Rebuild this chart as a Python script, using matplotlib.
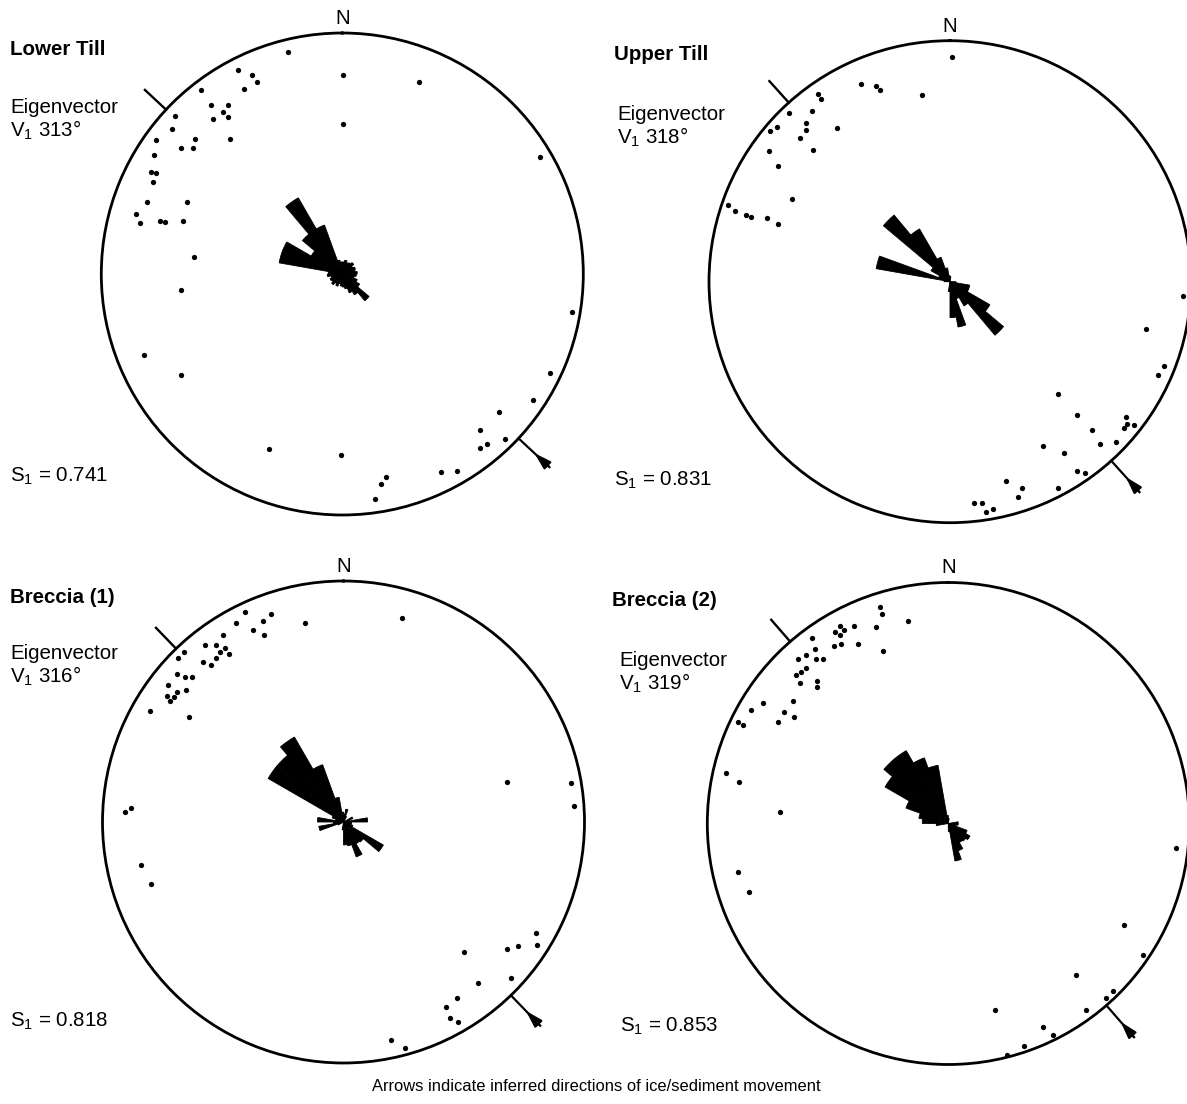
import numpy as np
import matplotlib
matplotlib.use('Agg')
import matplotlib.pyplot as plt

plt.rcParams['font.family'] = ['Liberation Sans', 'DejaVu Sans']
plt.rcParams['mathtext.fontset'] = 'custom'
plt.rcParams['mathtext.rm'] = 'Liberation Sans'
plt.rcParams['mathtext.it'] = 'Liberation Sans:italic'

W, H, DPI = 1187, 1104, 100

# ---- data -----------------------------------------------------------------
panel_names = ['Lower Till', 'Upper Till', 'Breccia (1)', 'Breccia (2)']
eigen_v1 = [313, 318, 316, 319]          # trend of principal eigenvector (deg)
s1_values = [0.741, 0.831, 0.818, 0.853]  # S1 eigenvalue

# clast axes, projected (east, north), net radius = 1
lower_till_x = [-0.227, -0.434, -0.373, -0.355, -0.408, 0.002, 0.320, -0.586, -0.544, -0.474,
                -0.494, -0.474, -0.538, -0.693, -0.708, 0.002, -0.773, -0.611, -0.466, -0.671,
                -0.620, -0.783, 0.820, -0.794, -0.772, -0.784, -0.812, -0.643, -0.857, -0.838,
                -0.755, -0.734, -0.660, -0.615, -0.668, 0.953, -0.823, -0.671, 0.863, 0.793,
                0.649, 0.573, 0.600, 0.573, 0.674, -0.304, -0.005, 0.408, 0.476, 0.183,
                0.159, 0.136]
lower_till_y = [0.920, 0.846, 0.827, 0.797, 0.766, 0.827, 0.797, 0.763, 0.702, 0.701,
                0.671, 0.651, 0.644, 0.654, 0.603, 0.622, 0.556, 0.559, 0.559, 0.522,
                0.522, 0.495, 0.484, 0.423, 0.418, 0.382, 0.298, 0.298, 0.249, 0.213,
                0.220, 0.215, 0.219, 0.072, -0.066, -0.158, -0.335, -0.419, -0.411, -0.524,
                -0.573, -0.647, -0.705, -0.723, -0.686, -0.726, -0.751, -0.823, -0.817, -0.842,
                -0.870, -0.934]

upper_till_x = [0.010, -0.370, -0.306, -0.290, -0.116, -0.547, -0.534, -0.668, -0.573, -0.598,
                -0.719, -0.748, -0.599, -0.467, -0.622, -0.749, -0.569, -0.715, -0.655, -0.923,
                -0.893, -0.848, -0.825, -0.761, -0.715, 0.965, 0.812, 0.887, 0.865, 0.448,
                0.529, 0.729, 0.733, 0.763, 0.723, 0.591, 0.689, 0.621, 0.386, 0.475,
                0.526, 0.559, 0.231, 0.298, 0.447, 0.284, 0.101, 0.134, 0.149, 0.178]
upper_till_y = [0.933, 0.822, 0.810, 0.795, 0.773, 0.777, 0.757, 0.701, 0.707, 0.660,
                0.643, 0.625, 0.629, 0.636, 0.595, 0.541, 0.545, 0.479, 0.344, 0.318,
                0.292, 0.276, 0.268, 0.263, 0.238, -0.059, -0.197, -0.349, -0.389, -0.465,
                -0.552, -0.563, -0.589, -0.595, -0.609, -0.614, -0.664, -0.673, -0.683, -0.711,
                -0.784, -0.795, -0.827, -0.858, -0.855, -0.892, -0.919, -0.919, -0.954, -0.945]

breccia1_x = [-0.409, -0.302, 0.241, -0.446, -0.334, -0.160, -0.376, -0.331, -0.501, -0.576,
              -0.529, -0.492, -0.661, -0.511, -0.474, -0.685, -0.529, -0.584, -0.551, -0.691,
              -0.656, -0.627, -0.728, -0.654, -0.691, -0.734, -0.705, -0.719, -0.802, -0.640,
              0.677, 0.945, 0.958, -0.882, -0.908, -0.839, -0.799, 0.799, 0.802, 0.677,
              0.723, 0.499, 0.696, 0.557, 0.471, 0.424, 0.443, 0.476, 0.198, 0.255]
breccia1_y = [0.870, 0.863, 0.848, 0.827, 0.834, 0.824, 0.795, 0.776, 0.776, 0.736,
              0.733, 0.723, 0.705, 0.705, 0.696, 0.679, 0.682, 0.665, 0.650, 0.613,
              0.603, 0.600, 0.568, 0.548, 0.539, 0.522, 0.517, 0.502, 0.459, 0.436,
              0.166, 0.163, 0.066, 0.058, 0.043, -0.178, -0.256, -0.461, -0.512, -0.526,
              -0.516, -0.541, -0.646, -0.668, -0.730, -0.768, -0.813, -0.830, -0.906, -0.937]

breccia2_x = [-0.282, -0.275, -0.168, -0.391, -0.301, -0.449, -0.434, -0.470, -0.448, -0.567,
              -0.444, -0.473, -0.373, -0.553, -0.270, -0.589, -0.625, -0.548, -0.521, -0.592,
              -0.610, -0.632, -0.546, -0.614, -0.545, -0.770, -0.646, -0.817, -0.683, -0.641,
              -0.705, -0.874, -0.852, -0.921, -0.870, -0.697, 0.944, -0.874, -0.828, 0.728,
              0.807, 0.531, 0.683, 0.654, 0.573, 0.193, 0.394, 0.436, 0.314, 0.242]
breccia2_y = [0.897, 0.868, 0.841, 0.821, 0.817, 0.821, 0.803, 0.793, 0.782, 0.768,
              0.745, 0.737, 0.745, 0.724, 0.715, 0.699, 0.684, 0.684, 0.684, 0.646,
              0.629, 0.615, 0.590, 0.582, 0.566, 0.500, 0.508, 0.472, 0.464, 0.443,
              0.422, 0.421, 0.409, 0.208, 0.172, 0.048, -0.103, -0.200, -0.285, -0.422,
              -0.544, -0.629, -0.695, -0.724, -0.773, -0.775, -0.846, -0.876, -0.922, -0.961]

# rose diagrams: 10 degree bins starting at 0, petal length in % of net radius
rose_bin_start = np.arange(0, 360, 10)
lower_till_rose = [5.0, 5.8, 5.0, 5.4, 6.2, 5.0, 5.8, 5.4, 6.2, 5.8,
                   5.0, 6.6, 8.3, 14.5, 10.0, 8.3, 6.2, 5.4, 5.0, 4.1,
                   5.4, 4.6, 5.8, 5.0, 5.4, 4.6, 6.2, 5.8, 26.6, 26.6,
                   14.9, 21.6, 36.5, 21.6, 5.8, 5.0]
upper_till_rose = [2.1, 0, 0, 0, 0, 0, 0, 0, 0, 2.5,
                   8.3, 8.3, 19.1, 29.0, 11.6, 7.5, 19.1, 14.9, 4.1, 0,
                   0, 0, 0, 0, 0, 0, 0, 2.5, 31.1, 5.0,
                   9.1, 36.1, 25.3, 10.8, 5.8, 2.5]
breccia1_rose = [3.3, 5.4, 2.5, 0, 0, 0, 4.1, 2.5, 10.0, 3.3,
                 3.3, 4.1, 19.1, 10.8, 10.4, 15.4, 10.0, 9.5, 3.3, 0,
                 0, 0, 0, 0, 2.5, 10.4, 4.1, 10.8, 3.3, 5.0,
                 36.1, 36.1, 40.7, 25.3, 10.4, 4.1]
breccia2_rose = [2.1, 0, 0, 0, 0, 0, 0, 0, 4.1, 4.1,
                 3.3, 8.3, 10.4, 9.5, 9.1, 12.0, 15.8, 3.3, 0, 0,
                 0, 0, 0, 0, 0, 0, 5.0, 10.8, 12.4, 18.7,
                 30.3, 34.9, 34.9, 29.0, 24.5, 3.3]

points_x = [lower_till_x, upper_till_x, breccia1_x, breccia2_x]
points_y = [lower_till_y, upper_till_y, breccia1_y, breccia2_y]
roses = [lower_till_rose, upper_till_rose, breccia1_rose, breccia2_rose]

# ---- layout (pixels) --------------------------------------------------------
net_centres = [(342.3, 274.0), (950.0, 281.7), (343.5, 822.0), (948.3, 823.5)]
net_radius = 241.0
# x of title / eigenvector block / S1 line
label_x = [(10.5, 10.5, 10.5), (614, 617, 614), (10.5, 10.5, 10.5), (612, 619, 620)]
# baselines of title / Eigenvector / V1 / S1
label_y = [(55, 113, 136.5, 482), (60, 120, 143.5, 486),
           (603, 659, 682.5, 1027), (606, 666, 689.5, 1032)]
font_size = 14.8

fig = plt.figure(figsize=(W / DPI, H / DPI), dpi=DPI)


def fx(px):
    return px / W


def fy(py):
    return 1 - py / H


for i in range(4):
    cx, cy = net_centres[i]
    ax = fig.add_axes([fx(cx - net_radius), fy(cy + net_radius),
                       2 * net_radius / W, 2 * net_radius / H], projection='polar')
    ax.set_theta_zero_location('N')
    ax.set_theta_direction(-1)
    ax.set_ylim(0, 1)
    ax.set_yticks([])
    ax.grid(False)
    ax.set_xticks(np.radians([0, 90, 180, 270]))
    ax.set_xticklabels([])
    ax.tick_params(axis='x', direction='in', length=7, width=1.5, color='black')
    ax.spines['polar'].set_linewidth(2.0)
    ax.patch.set_alpha(0)

    # rose of clast a-axis trends
    lengths = np.array(roses[i]) / 100.0
    ax.bar(np.radians(rose_bin_start + 5), lengths, width=np.radians(10),
           color='black', edgecolor='black', linewidth=0.6)

    # clast poles
    x = np.array(points_x[i])
    y = np.array(points_y[i])
    ax.plot(np.arctan2(x, y), np.hypot(x, y), 'o', color='black',
            markersize=3.8, markeredgewidth=0)

    # eigenvector V1 mark and ice-flow arrow
    tv = np.radians(eigen_v1[i])
    ax.plot([tv, tv], [1.0, 1.12], color='black', lw=1.7, clip_on=False)
    ta = np.radians(eigen_v1[i] - 180)
    ax.plot([ta, ta], [1.0, 1.175], color='black', lw=1.6, clip_on=False)
    ax.annotate('', xy=(ta, 1.09), xytext=(ta, 1.17), annotation_clip=False,
                arrowprops=dict(arrowstyle='-|>,head_length=1.0,head_width=0.3',
                                color='black', lw=1.6, shrinkA=0, shrinkB=0))

    ax.text(0, 1.038, 'N', ha='center', va='baseline', fontsize=font_size, clip_on=False)

    lx = label_x[i]
    ly = label_y[i]
    fig.text(fx(lx[0]), fy(ly[0]), panel_names[i], fontsize=font_size,
             fontweight='bold', ha='left', va='baseline')
    fig.text(fx(lx[1]), fy(ly[1]), 'Eigenvector', fontsize=font_size,
             ha='left', va='baseline')
    fig.text(fx(lx[1]), fy(ly[2]), 'V$_1$ %d\u00b0' % eigen_v1[i], fontsize=font_size,
             ha='left', va='baseline')
    fig.text(fx(lx[2]), fy(ly[3]), 'S$_1$ = %.3f' % s1_values[i], fontsize=font_size,
             ha='left', va='baseline')

fig.text(fx(596), fy(1091), 'Arrows indicate inferred directions of ice/sediment movement',
         fontsize=11.9, ha='center', va='baseline')

fig.savefig('out.png', dpi=DPI)
